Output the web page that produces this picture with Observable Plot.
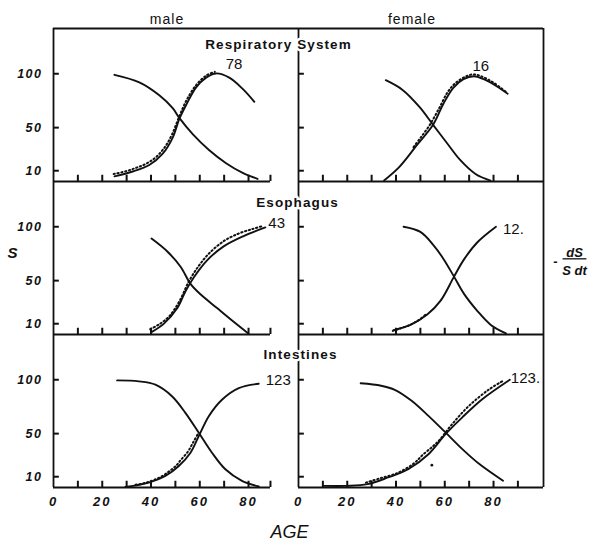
<!DOCTYPE html>
<html>
<head>
<meta charset="utf-8">
<script src="https://cdn.jsdelivr.net/npm/d3@7"></script>
<script src="https://cdn.jsdelivr.net/npm/@observablehq/plot@0.6"></script>
<style>
  body { margin: 0; background: #fff; }
  #chart { width: 589px; height: 540px; }
  #chart svg { font-family: "Liberation Sans", Arial, sans-serif; }
  g[aria-label="y-axis tick label"] text { letter-spacing: 1.5px; }
  g[aria-label="x-axis tick label"] text { letter-spacing: 2px; }
  g[aria-label="fx-axis tick label"] text { letter-spacing: 1px; }
  .title text { letter-spacing: 1.1px; }
  .frac text { text-decoration: underline; text-decoration-thickness: 1.5px; }
</style>
</head>
<body>
<div id="chart"></div>
<script>
// ---- categories and ticks ----
const sexes = ["male", "female"];
const sites = ["Respiratory System", "Esophagus", "Intestines"];
const yTicks = [10, 50, 100];
const xTickLabels = [0, 20, 40, 60, 80];
const xTicksMale = [10, 20, 30, 40, 50, 60, 70, 80, 89];
const xTicksFemale = [10, 20, 30, 40, 50, 60, 70, 80, 90];
const xDomain = [0, 100.5];
const yDomain = [0, 142];
const axisEnd = { male: 89, female: 100.5 };

// ---- series: [age, value] ----
// Respiratory System
const maleRespS   = [[25,99],[35.2,92],[43.4,80],[48.9,68],[51.6,59],[57.1,44],[63.9,29],[70.8,17],[77.6,8],[83.7,2.4]];
const maleRespH   = [[25,4.8],[32.5,9.3],[39.3,15.3],[44.8,25.8],[48.9,40.8],[51.6,58],[54.4,71],[58.5,87.4],[62.6,96.4],[66.7,100.3],[72.1,96.4],[77.6,86],[82.4,74]];
const maleRespObs = [[25,6],[30,8.6],[34,11.6],[38,15.2],[42,21],[46,31],[49,43],[52,60],[55,75],[59,89],[63,97.5],[66.5,100.8]];
const femaleRespS   = [[35.8,94],[42.7,85],[49.7,69],[55.2,52.6],[60.8,36],[66.3,20],[72.6,7],[78.8,0.8]];
const femaleRespH   = [[35.1,1],[41.3,13.4],[48.3,33],[55.2,52.6],[59.4,72],[63.5,87],[67.7,95],[71.9,97.7],[76,95],[81.6,88],[85.8,81.4]];
const femaleRespObs = [[47.5,31],[50.5,40],[54,51],[58,67],[61.5,82],[64.5,90],[68.5,96],[72,98.5],[76,96],[80.5,90.5],[85.3,82.5]];
// Esophagus
const maleEsoS   = [[40.2,89],[46.7,77],[52.2,62.7],[56.2,47],[60.3,37.3],[67.1,24.5],[73.9,11.8],[80,0.8]];
const maleEsoH   = [[40.2,2.2],[45.3,10.1],[50.8,24.5],[54.2,40.4],[57.6,53.2],[63.1,69.1],[69.8,81.8],[78,91.4],[86.9,99.4]];
const maleEsoObs = [[40,4],[44,9],[48,16.5],[52,30],[56,49],[60,63],[64,74],[70,85.5],[76,92.5],[82,97],[86.5,100]];
const femaleEsoS   = [[43.1,100],[50,95.2],[55.5,82.5],[59.6,69.7],[63.8,53.7],[67.9,37.7],[73.4,21.8],[78.9,8.9],[85.1,1]];
const femaleEsoH   = [[39,4.1],[45.9,8.9],[52.8,18.5],[58.3,31.4],[63.8,53.7],[67.9,69.7],[73.4,85.6],[81,100]];
const femaleEsoObs = [[39,2.4],[42,4.6],[45.5,7.4],[49,11.5],[52.5,17.5]];
// Intestines
const maleIntS   = [[26.1,99.4],[35,98.5],[41.8,95.4],[48.6,84.7],[54.1,69.3],[59.6,50.8],[65,32.3],[70.5,16.9],[77.3,6.2],[84.2,1]];
const maleIntH   = [[29.5,0.5],[39.1,4.6],[45.9,10.8],[51.4,20],[56.2,32.3],[59.6,47.7],[63.7,66.2],[69.1,81.5],[76,92.3],[84.2,96.3]];
const maleIntObs = [[34,1.6],[38,3.4],[44,8.5],[48,14.5],[50.7,19.5],[52.5,24.5],[55.5,32.5],[57.5,40.5],[59.5,48.5]];
const femaleIntS   = [[25.5,96.7],[33.9,94.4],[39.5,90.7],[46.4,80.5],[53.3,66.5],[60.3,51.1],[67.2,35.6],[74.2,21.7],[83.9,6.2]];
const femaleIntH   = [[10.3,1.5],[20,1.5],[28.3,3.1],[36.7,9.3],[45,17],[53.3,30.9],[60.3,49.5],[67.2,65.1],[75.5,82.1],[86.7,100]];
const femaleIntObs = [[28,3.6],[34,7.8],[40.8,12.4],[47.8,21.7],[51.3,29.4],[55.4,37.2],[58.2,43.3],[63.1,57.2],[70,74.3],[78.3,89.8],[83.9,97.6]];
const femaleIntStray = [[54.7,20.7]];

// numbers written next to the -dS/(S dt) curves, panel order site x sex
const curveLabels = ["78", "16", "43", "12.", "123", "123."];

// ---- assemble tables ----
const panelSeries = [
  [maleRespS, maleRespH, maleRespObs], [femaleRespS, femaleRespH, femaleRespObs],
  [maleEsoS, maleEsoH, maleEsoObs],    [femaleEsoS, femaleEsoH, femaleEsoObs],
  [maleIntS, maleIntH, maleIntObs],    [femaleIntS, femaleIntH, femaleIntObs]
];
const panels = sites.flatMap(site => sexes.map(sex => ({ site, sex })));
const rows = [];
panels.forEach((p, i) => {
  ["S", "H", "obs"].forEach((kind, k) => {
    panelSeries[i][k].forEach(([age, v]) => rows.push({ ...p, kind, id: `${p.sex}-${p.site}-${kind}`, age, v }));
  });
});
const solid = rows.filter(d => d.kind !== "obs");
const dotted = rows.filter(d => d.kind === "obs");
const stray = femaleIntStray.map(([age, v]) => ({ sex: "female", site: "Intestines", age, v }));

const xTickRows = panels.flatMap(p => (p.sex === "male" ? xTicksMale : xTicksFemale).map(t => ({ site: p.site, sex: p.sex, t })));
const yTickRows = panels.flatMap(p => yTicks.map(t => ({ site: p.site, sex: p.sex, t })));

const labelPoints = panels.map((p, i) => {
  const [age, v] = d3.greatest(panelSeries[i][1], d => d[1]);
  return { ...p, age, v, text: curveLabels[i] };
});
const labelStyle = [
  { dx: 18, dy: -9, textAnchor: "middle" },
  { dx: 7, dy: -10, textAnchor: "middle" },
  { dx: 3, dy: -4, textAnchor: "start" },
  { dx: 7, dy: 2, textAnchor: "start" },
  { dx: 7, dy: -4, textAnchor: "start" },
  { dx: 1, dy: -2, textAnchor: "start" }
];
const titleStyle = [{ dx: -20, dy: 11 }, { dx: -1, dy: 16 }, { dx: 2, dy: 15 }];

const ink = "#111";
const F = { fx: "sex", fy: "site" };

const marks = [
  // frame / axes lines
  Plot.ruleX(panels, { ...F, x: xDomain[0], y1: yDomain[0], y2: yDomain[1], stroke: ink, strokeWidth: 1.8 }),
  Plot.ruleX(panels.filter(p => p.sex === "female"), { ...F, x: xDomain[1], y1: yDomain[0], y2: yDomain[1], stroke: ink, strokeWidth: 1.8 }),
  Plot.ruleY(panels.filter(p => p.site === sites[0]), { ...F, y: yDomain[1], x1: xDomain[0], x2: xDomain[1], stroke: ink, strokeWidth: 1.8 }),
  Plot.ruleY(panels, { ...F, y: yDomain[0], x1: xDomain[0], x2: d => axisEnd[d.sex], stroke: ink, strokeWidth: 1.8 }),
  // ticks (inward)
  Plot.ruleX(xTickRows, { ...F, x: "t", y1: 0, y2: 5.8, stroke: ink, strokeWidth: 2 }),
  Plot.ruleY(yTickRows, { ...F, y: "t", x1: 0, x2: 2.4, stroke: ink, strokeWidth: 2 }),
  // curves
  Plot.line(solid, { ...F, x: "age", y: "v", z: "id", curve: "catmull-rom", stroke: ink, strokeWidth: 1.9 }),
  Plot.line(dotted, { ...F, x: "age", y: "v", z: "id", curve: "catmull-rom", stroke: ink, strokeWidth: 2, strokeDasharray: "1.3,2.6", strokeLinecap: "round", dx: -0.8, dy: -1 }),
  Plot.dot(stray, { ...F, x: "age", y: "v", r: 1.4, fill: ink }),
  // axes
  Plot.axisFx({ anchor: "top", tickSize: 0, tickPadding: 5, label: null, fontSize: 14, dx: -9 }),
  Plot.axisX({ ticks: xTickLabels, tickSize: 0, tickPadding: 9, label: null, fontSize: 13, fontWeight: "bold", fontStyle: "italic" }),
  Plot.axisY({ ticks: yTicks, tickSize: 0, tickPadding: 11, label: null, fontSize: 12.5, fontWeight: "bold", fontStyle: "italic" }),
  // side labels
  Plot.text([{ sex: "male", site: sites[1], t: "S" }], { ...F, text: "t", frameAnchor: "left", textAnchor: "middle", dx: -41, dy: -5, fontSize: 15, fontWeight: "bold", fontStyle: "italic" }),
  Plot.text([{ sex: "female", site: sites[1], t: "-" }], { ...F, text: "t", frameAnchor: "right", textAnchor: "middle", dx: 12, dy: 4, fontSize: 13, fontWeight: "bold" }),
  Plot.text([{ sex: "female", site: sites[1], t: "\u00a0dS\u00a0" }], { ...F, text: "t", frameAnchor: "right", textAnchor: "middle", dx: 31, dy: -5, fontSize: 13, fontWeight: "bold", fontStyle: "italic", className: "frac" }),
  Plot.text([{ sex: "female", site: sites[1], t: "S dt" }], { ...F, text: "t", frameAnchor: "right", textAnchor: "middle", dx: 31, dy: 13, fontSize: 13, fontWeight: "bold", fontStyle: "italic" }),
  Plot.text([{ sex: "male", site: sites[2], t: "AGE" }], { ...F, text: "t", frameAnchor: "bottom-right", textAnchor: "middle", dx: -9, dy: 50, fontSize: 18, fontStyle: "italic" })
];
sites.forEach((site, i) => {
  marks.push(Plot.text([{ sex: "male", site }], { ...F, text: "site", frameAnchor: "top-right", textAnchor: "middle", dx: titleStyle[i].dx, dy: titleStyle[i].dy, fontSize: 13.5, fontWeight: "bold", fill: ink, stroke: "white", strokeWidth: 5, paintOrder: "stroke", className: "title" }));
});
labelPoints.forEach((d, i) => {
  marks.push(Plot.text([d], { ...F, x: "age", y: "v", text: "text", fontSize: 15, ...labelStyle[i] }));
});

const chart = Plot.plot({
  width: 589,
  height: 540,
  marginTop: 27,
  marginBottom: 52,
  marginLeft: 53,
  marginRight: 46,
  style: { fontFamily: "Liberation Sans, Arial, sans-serif", color: ink, background: "#fff" },
  fx: { domain: sexes, padding: 0 },
  fy: { domain: sites, padding: 0, axis: null },
  x: { domain: xDomain },
  y: { domain: yDomain },
  marks
});
document.getElementById("chart").appendChild(chart);
</script>
</body>
</html>
